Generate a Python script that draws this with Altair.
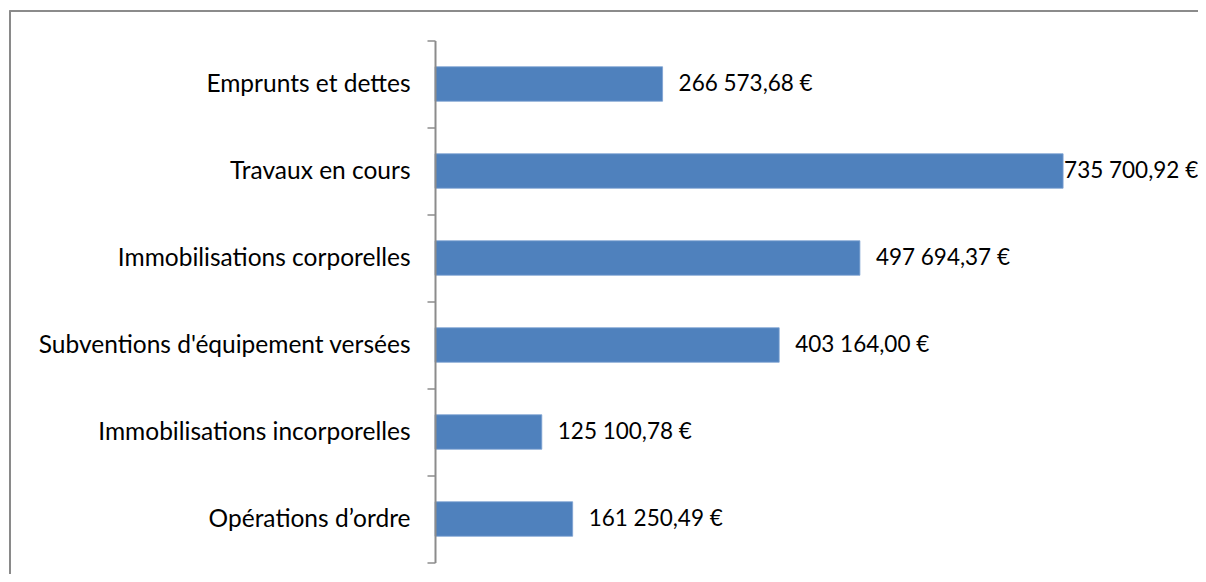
import altair as alt
import pandas as pd

categories = [
    "Emprunts et dettes",
    "Travaux en cours",
    "Immobilisations corporelles",
    "Subventions d'équipement versées ",
    "Immobilisations incorporelles",
    "Opérations d’ordre",
]
values = [266573.68, 735700.92, 497694.37, 403164.00, 125100.78, 161250.49]


def fr(v):
    return f"{v:,.2f}".replace(",", " ").replace(".", ",") + " €"


labels = [fr(v) for v in values]
vmax = max(values)
df = pd.DataFrame({"cat": categories, "value": values, "label": labels,
                   "ismax": [v == vmax for v in values]})

FONT = "Lato"
FS = 24.5
FSV = 22.5
y = alt.Y("cat:N", sort=categories, title=None,
          scale=alt.Scale(paddingInner=0, paddingOuter=0),
          axis=alt.Axis(tickBand="extent", tickSize=8, labelPadding=17,
                        domainColor="#8c8c8c", tickColor="#8c8c8c",
                        domainWidth=2, tickWidth=1.5, zindex=1,
                        labelFont=FONT, labelFontSize=FS, labelColor="#000000",
                        labelLimit=500))
x = alt.X("value:Q", scale=alt.Scale(domain=[0, 800000]), axis=None)

frame = alt.Chart(df).mark_rect(fillOpacity=0, stroke="#8a8a8a", strokeWidth=1.2).encode(
    x=alt.value(-425), x2=alt.value(790), y=alt.value(-29.5), y2=alt.value(560))

bars = alt.Chart(df).mark_bar(color="#4F81BD", stroke="#7fa3d3", strokeWidth=0.8,
                              height=34.5).encode(y=y, x=x)

txt = alt.Chart(df).transform_filter("!datum.ismax").mark_text(
    align="left", dx=16, font=FONT, fontSize=FSV, color="#000000").encode(y=y, x=x, text="label:N")
txtmax = alt.Chart(df).transform_filter("datum.ismax").mark_text(
    align="left", dx=1, font=FONT, fontSize=FSV, color="#000000").encode(y=y, x=x, text="label:N")

chart = alt.layer(frame, bars, txt, txtmax).properties(
    width=683, height=522,
    padding={"left": 427, "top": 32.5, "right": 80, "bottom": 11},
    autosize=alt.AutoSizeParams(type="none"),
).configure_view(stroke=None)

chart.save("out.html", embed_options={"renderer": "svg", "actions": False})
